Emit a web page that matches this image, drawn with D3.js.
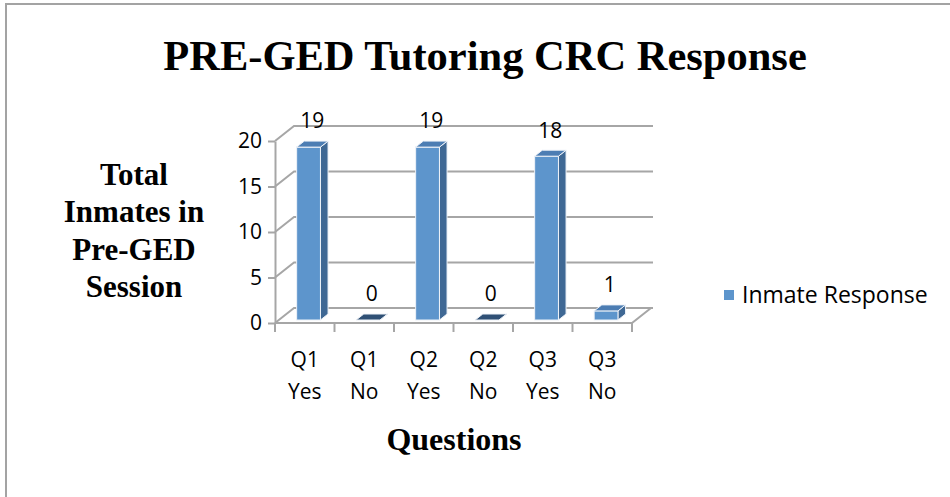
<!DOCTYPE html>
<html>
<head>
<meta charset="utf-8">
<script src="https://cdn.jsdelivr.net/npm/d3@7"></script>
<style>
  body { margin: 0; background: #fff; }
  svg { display: block; }
</style>
</head>
<body>
<div class="chart"></div>
<script>
// data
var categories = ["Q1 Yes", "Q1 No", "Q2 Yes", "Q2 No", "Q3 Yes", "Q3 No"];
var values = [19, 0, 19, 0, 18, 1];
var yTicks = [0, 5, 10, 15, 20];
var seriesName = "Inmate Response";
var titleText = "PRE-GED Tutoring CRC Response";
var yTitleLines = ["Total", "Inmates in", "Pre-GED", "Session"];
var xTitleText = "Questions";

var width = 950, height = 497;
var depth = {dx: 19, dy: -15};   // offset of the back wall
var f0 = 0.2, f1 = 0.6;          // bar front / back as fraction of depth

var svg = d3.select('.chart')
  .append('svg')
  .attr('width', width)
  .attr('height', height);

// outer frame (goes off the right and bottom)
svg.append('rect')
  .attr('x', 6).attr('y', 4)
  .attr('width', 1000).attr('height', 1000)
  .attr('fill', 'none')
  .attr('stroke', '#a3a3a3')
  .attr('stroke-width', 2);

var xScale = d3.scaleBand()
  .domain(categories)
  .range([275, 632]);

var yScale = d3.scaleLinear()
  .domain([0, 20])
  .range([323, 141]);

var bw = xScale.bandwidth();
var x0 = xScale.range()[0], x1 = xScale.range()[1];

// walls: gridlines on side wall + back wall
svg.append('g').selectAll('path')
  .data(yTicks)
  .enter().append('path')
    .attr('d', function(t) {
      var yy = yScale(t);
      return "M" + x0 + "," + yy +
        "L" + (x0 + depth.dx) + "," + (yy + depth.dy) +
        "L" + (x1 + depth.dx + 2) + "," + (yy + depth.dy);
    })
    .attr('fill', 'none')
    .attr('stroke', '#a6a6a6')
    .attr('stroke-width', 2);

// floor
svg.append('path')
  .attr('d', "M" + x0 + "," + yScale(0) + "L" + x1 + "," + yScale(0) +
    "L" + (x1 + depth.dx) + "," + (yScale(0) + depth.dy))
  .attr('fill', 'none')
  .attr('stroke', '#a6a6a6')
  .attr('stroke-width', 2);

// y axis
var yAxis = d3.axisLeft(yScale)
  .tickValues(yTicks)
  .tickSize(7)
  .tickSizeOuter(0)
  .tickPadding(6);

var yG = svg.append('g')
  .attr('transform', 'translate(' + x0 + ',0)')
  .call(yAxis);
yG.select('.domain').attr('stroke', '#a6a6a6').attr('stroke-width', 2);
yG.selectAll('.tick line').attr('stroke', '#a6a6a6').attr('stroke-width', 2);
yG.selectAll('.tick text')
  .attr('fill', '#000')
  .style('font-family', '"Open Sans", sans-serif')
  .style('font-size', '21px');

// x axis, labels on two lines
var xAxis = d3.axisBottom(xScale).tickSize(0).tickPadding(0);
var xG = svg.append('g')
  .attr('transform', 'translate(0,' + yScale(0) + ')')
  .call(xAxis);
xG.select('.domain').remove();
xG.selectAll('.tick text')
  .attr('fill', '#000')
  .attr('y', 0).attr('dy', null)
  .style('font-family', '"Open Sans", sans-serif')
  .style('font-size', '21px')
  .each(function(d) {
    var parts = d.split(' ');
    var t = d3.select(this).text(null);
    parts.forEach(function(p, i) {
      t.append('tspan').attr('x', 0).attr('y', 37 + i * 32).attr('dy', '0.35em').text(p);
    });
  });

// tick marks sit on category boundaries
var bounds = categories.map(function(c) { return xScale(c); }).concat([x1]);
svg.append('g').selectAll('line')
  .data(bounds)
  .enter().append('line')
    .attr('x1', function(d) { return d; })
    .attr('x2', function(d) { return d; })
    .attr('y1', yScale(0))
    .attr('y2', yScale(0) + 9)
    .attr('stroke', '#a6a6a6')
    .attr('stroke-width', 2);

// 3d bars
var data = categories.map(function(c, i) { return {cat: c, value: values[i]}; });
var ddx = (f1 - f0) * depth.dx, ddy = (f1 - f0) * depth.dy;
var w = 0.4 * bw;

function geo(d) {
  var left = xScale(d.cat) + 0.3 * bw + f0 * depth.dx;
  var top = yScale(d.value) + f0 * depth.dy;
  var bottom = yScale(0) + f0 * depth.dy;
  return {left: left, right: left + w, top: top, bottom: bottom};
}

var bars = svg.append('g').selectAll('g')
  .data(data)
  .enter().append('g');

bars.append('path')   // side
  .attr('d', function(d) {
    var g = geo(d);
    return "M" + g.right + "," + g.top + "L" + (g.right + ddx) + "," + (g.top + ddy) +
      "L" + (g.right + ddx) + "," + (g.bottom + ddy) + "L" + g.right + "," + g.bottom + "Z";
  })
  .attr('fill', '#3f6894')
  .attr('stroke', '#eef2f8')
  .attr('stroke-width', 1);

bars.append('rect')   // front
  .attr('x', function(d) { return geo(d).left; })
  .attr('y', function(d) { return geo(d).top; })
  .attr('width', w)
  .attr('height', function(d) { var g = geo(d); return g.bottom - g.top; })
  .attr('fill', '#5d95cc')
  .attr('stroke', '#eef2f8')
  .attr('stroke-width', 1);

bars.append('path')   // top
  .attr('d', function(d) {
    var g = geo(d);
    return "M" + g.left + "," + g.top + "L" + (g.left + ddx) + "," + (g.top + ddy) +
      "L" + (g.right + ddx) + "," + (g.top + ddy) + "L" + g.right + "," + g.top + "Z";
  })
  .attr('fill', function(d) { return d.value === 0 ? '#2f5075' : '#4c7db3'; })
  .attr('stroke', '#eef2f8')
  .attr('stroke-width', 1);

// value labels
bars.append('text')
  .attr('x', function(d) { var g = geo(d); return (g.left + g.right) / 2 + ddx / 2; })
  .attr('y', function(d) { return geo(d).top - 26; })
  .attr('dy', '0.35em')
  .attr('text-anchor', 'middle')
  .style('font-family', '"Open Sans", sans-serif')
  .style('font-size', '21px')
  .text(function(d) { return d.value; });

// titles
svg.append('text')
  .attr('x', 485).attr('y', 70)
  .attr('text-anchor', 'middle')
  .style('font-family', '"Liberation Serif", "Times New Roman", serif')
  .style('font-weight', 'bold')
  .style('font-size', '42.5px')
  .text(titleText);

svg.append('text')
  .attr('text-anchor', 'middle')
  .style('font-family', '"Liberation Serif", "Times New Roman", serif')
  .style('font-weight', 'bold')
  .style('font-size', '31px')
  .selectAll('tspan')
  .data(yTitleLines)
  .enter().append('tspan')
    .attr('x', 134)
    .attr('y', function(d, i) { return 185 + i * 37.3; })
    .text(function(d) { return d; });

svg.append('text')
  .attr('x', 454).attr('y', 450)
  .attr('text-anchor', 'middle')
  .style('font-family', '"Liberation Serif", "Times New Roman", serif')
  .style('font-weight', 'bold')
  .style('font-size', '32px')
  .text(xTitleText);

// legend
var legend = svg.append('g').attr('transform', 'translate(724,290)');
legend.append('rect')
  .attr('width', 10).attr('height', 10)
  .attr('fill', '#5d95cc');
legend.append('text')
  .attr('x', 18).attr('y', 5)
  .attr('dy', '0.35em')
  .style('font-family', '"Open Sans", sans-serif')
  .style('font-size', '23px')
  .text(seriesName);
</script>
</body>
</html>
